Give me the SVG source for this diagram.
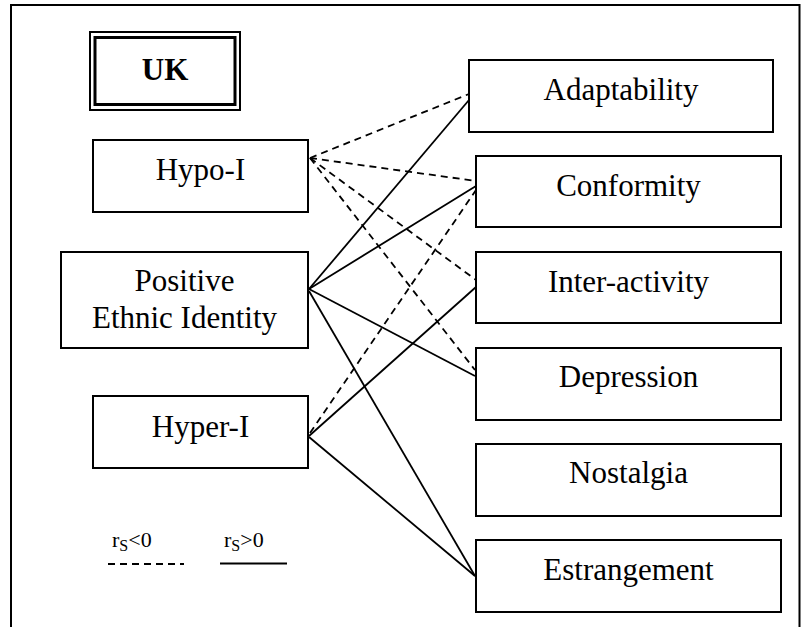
<svg xmlns="http://www.w3.org/2000/svg" width="801" height="627" viewBox="0 0 801 627">
<style>
.box{fill:#fff;stroke:#000;stroke-width:2}
.lbl{font-family:"Liberation Serif","Times New Roman",serif;font-size:31px;fill:#000;text-anchor:middle}
.leg{font-family:"Liberation Serif","Times New Roman",serif;font-size:22px;fill:#000}
.pos{stroke:#000;stroke-width:1.8;fill:none}
.neg{stroke:#000;stroke-width:1.8;fill:none;stroke-dasharray:7 5}
</style>
<rect x="0" y="0" width="801" height="627" fill="#fff"/>
<path d="M11,627 V5 H799.5 V627" fill="none" stroke="#000" stroke-width="2"/>
<g id="uk">
<rect x="90" y="32" width="150" height="78" fill="#fff" stroke="#000" stroke-width="2"/>
<rect x="95" y="37.5" width="140" height="67" fill="none" stroke="#000" stroke-width="3"/>
<text x="165" y="80" class="lbl" font-weight="bold">UK</text>
</g>
<g id="connectors">
<line class="neg" x1="310" y1="158" x2="469" y2="94"/>
<line class="neg" x1="310" y1="158" x2="476" y2="181"/>
<line class="neg" x1="310" y1="158" x2="476" y2="280"/>
<line class="neg" x1="310" y1="158" x2="475" y2="370"/>
<line class="neg" x1="310" y1="433" x2="476" y2="190"/>
<line class="pos" x1="309" y1="289" x2="469" y2="100"/>
<line class="pos" x1="309" y1="289" x2="476" y2="186"/>
<line class="pos" x1="309" y1="289" x2="475" y2="376"/>
<line class="pos" x1="309" y1="291" x2="475" y2="576"/>
<line class="pos" x1="309" y1="436" x2="476" y2="287"/>
<line class="pos" x1="309" y1="437" x2="475" y2="576"/>
</g>
<g id="hypo">
<rect class="box" x="93" y="140" width="215" height="72"/>
<text x="200.5" y="180" class="lbl">Hypo-I</text>
</g>
<g id="pei">
<rect class="box" x="61" y="252" width="247" height="96"/>
<text x="184.5" y="291" class="lbl">Positive</text>
<text x="184.5" y="328" class="lbl">Ethnic Identity</text>
</g>
<g id="hyper">
<rect class="box" x="93" y="396" width="215" height="72"/>
<text x="200.5" y="437" class="lbl">Hyper-I</text>
</g>
<g id="adaptability">
<rect class="box" x="469" y="60" width="304" height="72"/>
<text x="621" y="100" class="lbl">Adaptability</text>
</g>
<g id="conformity">
<rect class="box" x="476" y="156" width="305" height="71"/>
<text x="628.5" y="196" class="lbl">Conformity</text>
</g>
<g id="interactivity">
<rect class="box" x="476" y="252" width="305" height="71"/>
<text x="628.5" y="292" class="lbl">Inter-activity</text>
</g>
<g id="depression">
<rect class="box" x="476" y="348" width="305" height="72"/>
<text x="628.5" y="387" class="lbl">Depression</text>
</g>
<g id="nostalgia">
<rect class="box" x="476" y="444" width="305" height="72"/>
<text x="628.5" y="483" class="lbl">Nostalgia</text>
</g>
<g id="estrangement">
<rect class="box" x="476" y="540" width="305" height="72"/>
<text x="628.5" y="580" class="lbl">Estrangement</text>
</g>
<g id="legend">
<text x="112" y="547" class="leg">r<tspan font-size="16" dy="4">S</tspan><tspan dy="-4">&lt;0</tspan></text>
<line class="neg" x1="108" y1="564" x2="184" y2="564"/>
<text x="224" y="547" class="leg">r<tspan font-size="16" dy="4">S</tspan><tspan dy="-4">&gt;0</tspan></text>
<line class="pos" x1="220" y1="563.5" x2="287" y2="563.5" stroke-width="2"/>
</g>
</svg>
